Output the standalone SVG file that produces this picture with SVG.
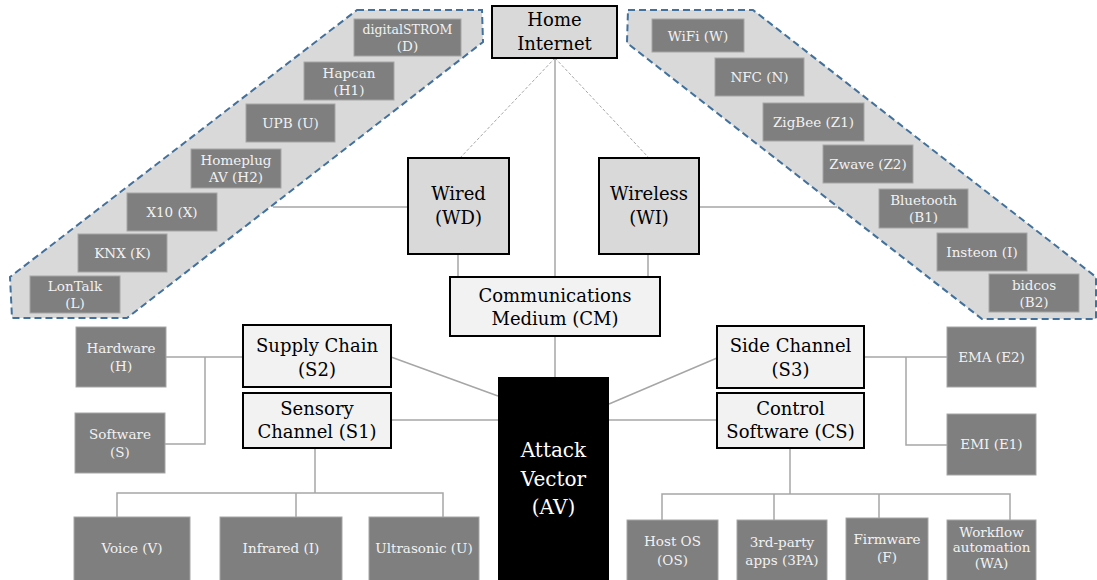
<svg xmlns="http://www.w3.org/2000/svg" width="1097" height="580" viewBox="0 0 1097 580">
<style>
.poly{fill:#d9d9d9;stroke:#41719c;stroke-width:2;stroke-dasharray:7 4}
.g{fill:#7f7f7f;stroke:#a6a6a6;stroke-width:1}
.gt{font-family:"DejaVu Serif","Liberation Serif",serif;font-size:13.5px;fill:#f2f2f2;text-anchor:middle}
.l1{fill:#d9d9d9;stroke:#000;stroke-width:2}
.l2{fill:#f2f2f2;stroke:#000;stroke-width:2}
.lt{font-family:"DejaVu Serif","Liberation Serif",serif;font-size:18px;fill:#000;text-anchor:middle}
.avt{font-family:"DejaVu Serif","Liberation Serif",serif;font-size:20px;fill:#fff;text-anchor:middle}
.c{stroke:#a6a6a6;stroke-width:1.5;fill:none}
.d{stroke:#a6a6a6;stroke-width:1;stroke-dasharray:3 2;fill:none}
</style>
<rect width="1097" height="580" fill="#fff"/>
<g id="wired-group"><polygon class="poly" points="357,10 482,10 483,42 127,318 12,318 10,277"/></g>
<g id="wireless-group"><polygon class="poly" points="628,10 753,10 1096,277 1096,319 982,319 627,43"/></g>
<g id="connectors">
<path class="c" d="M555,58V277"/>
<path class="d" d="M555,58L460,158"/>
<path class="d" d="M555,58L649,158"/>
<path class="c" d="M408,207H273"/>
<path class="c" d="M699,207H837"/>
<path class="c" d="M458,254V277"/>
<path class="c" d="M648,254V277"/>
<path class="c" d="M555,336V377"/>
<path class="c" d="M391,357L498,396"/>
<path class="c" d="M391,420H498"/>
<path class="c" d="M609,404L717,358"/>
<path class="c" d="M609,420H717"/>
<path class="c" d="M243,357H166M205,357V444H165"/>
<path class="c" d="M315,448V493M117,517V493H443V517M296,493V517"/>
<path class="c" d="M864,357H947M906,357V445H947"/>
<path class="c" d="M790,448V494M662,520V494H1010V520M774,494V520M879,494V518"/>
</g>
<g id="D"><rect class="g" x="354" y="19" width="107" height="37"/><text class="gt" x="407.5" y="34" style="font-size:12.5px">digitalSTROM</text><text class="gt" x="407.5" y="51">(D)</text></g>
<g id="H1"><rect class="g" x="304" y="62" width="90" height="38"/><text class="gt" x="349" y="77.5">Hapcan</text><text class="gt" x="349" y="94.5">(H1)</text></g>
<g id="U"><rect class="g" x="246" y="104" width="89" height="38"/><text class="gt" x="290.5" y="128">UPB (U)</text></g>
<g id="H2"><rect class="g" x="191" y="149" width="90" height="39"/><text class="gt" x="236" y="165">Homeplug</text><text class="gt" x="236" y="182">AV (H2)</text></g>
<g id="X"><rect class="g" x="127" y="193" width="90" height="38"/><text class="gt" x="172" y="217">X10 (X)</text></g>
<g id="K"><rect class="g" x="78" y="234" width="89" height="38"/><text class="gt" x="122.5" y="258">KNX (K)</text></g>
<g id="L"><rect class="g" x="30" y="276" width="90" height="37"/><text class="gt" x="75" y="291">LonTalk</text><text class="gt" x="75" y="308">(L)</text></g>
<g id="W"><rect class="g" x="652" y="19" width="92" height="33"/><text class="gt" x="698" y="40.5">WiFi (W)</text></g>
<g id="N"><rect class="g" x="715" y="58" width="89" height="38"/><text class="gt" x="759.5" y="82">NFC (N)</text></g>
<g id="Z1"><rect class="g" x="763" y="103" width="101" height="38"/><text class="gt" x="813.5" y="127">ZigBee (Z1)</text></g>
<g id="Z2"><rect class="g" x="823" y="145" width="90" height="38"/><text class="gt" x="868" y="169">Zwave (Z2)</text></g>
<g id="B1"><rect class="g" x="879" y="189" width="89" height="39"/><text class="gt" x="923.5" y="205">Bluetooth</text><text class="gt" x="923.5" y="222">(B1)</text></g>
<g id="I"><rect class="g" x="937" y="233" width="90" height="38"/><text class="gt" x="982" y="257">Insteon (I)</text></g>
<g id="B2"><rect class="g" x="989" y="274" width="90" height="38"/><text class="gt" x="1034" y="289.5">bidcos</text><text class="gt" x="1034" y="306.5">(B2)</text></g>
<g id="HI"><rect class="l1" x="492" y="6" width="125" height="52"/><text class="lt" x="554.5" y="26">Home</text><text class="lt" x="554.5" y="50">Internet</text></g>
<g id="WD"><rect class="l1" x="408" y="158" width="101" height="96"/><text class="lt" x="458.5" y="200">Wired</text><text class="lt" x="458.5" y="224">(WD)</text></g>
<g id="WI"><rect class="l1" x="599" y="158" width="100" height="96"/><text class="lt" x="649" y="200">Wireless</text><text class="lt" x="649" y="224">(WI)</text></g>
<g id="CM"><rect class="l2" x="450" y="277" width="210" height="59"/><text class="lt" x="555" y="302">Communications</text><text class="lt" x="555" y="325">Medium (CM)</text></g>
<g id="S2"><rect class="l2" x="243" y="325" width="148" height="62"/><text class="lt" x="317" y="352">Supply Chain</text><text class="lt" x="317" y="376">(S2)</text></g>
<g id="S1"><rect class="l2" x="243" y="393" width="148" height="55"/><text class="lt" x="317" y="415">Sensory</text><text class="lt" x="317" y="438">Channel (S1)</text></g>
<g id="S3"><rect class="l2" x="717" y="326" width="147" height="62"/><text class="lt" x="790.5" y="352">Side Channel</text><text class="lt" x="790.5" y="376">(S3)</text></g>
<g id="CS"><rect class="l2" x="717" y="393" width="147" height="55"/><text class="lt" x="790.5" y="415">Control</text><text class="lt" x="790.5" y="438">Software (CS)</text></g>
<g id="AV"><rect x="498" y="377" width="111" height="210" fill="#000"/><text class="avt" x="553.5" y="457">Attack</text><text class="avt" x="553.5" y="486">Vector</text><text class="avt" x="553.5" y="514">(AV)</text></g>
<g id="H"><rect class="g" x="76" y="327" width="90" height="60"/><text class="gt" x="121" y="353">Hardware</text><text class="gt" x="121" y="371">(H)</text></g>
<g id="S"><rect class="g" x="75" y="413" width="90" height="60"/><text class="gt" x="120" y="439">Software</text><text class="gt" x="120" y="457">(S)</text></g>
<g id="E2"><rect class="g" x="947" y="327" width="89" height="60"/><text class="gt" x="991.5" y="362">EMA (E2)</text></g>
<g id="E1"><rect class="g" x="947" y="414" width="89" height="61"/><text class="gt" x="991.5" y="449">EMI (E1)</text></g>
<g id="V"><rect class="g" x="74" y="517" width="116" height="80"/><text class="gt" x="132" y="553">Voice (V)</text></g>
<g id="IR"><rect class="g" x="220" y="517" width="122" height="80"/><text class="gt" x="281" y="553">Infrared (I)</text></g>
<g id="US"><rect class="g" x="369" y="517" width="110" height="80"/><text class="gt" x="424" y="553">Ultrasonic (U)</text></g>
<g id="OS"><rect class="g" x="627" y="520" width="91" height="70"/><text class="gt" x="672.5" y="546">Host OS</text><text class="gt" x="672.5" y="565">(OS)</text></g>
<g id="3PA"><rect class="g" x="737" y="520" width="90" height="70"/><text class="gt" x="782" y="547">3rd-party</text><text class="gt" x="782" y="565">apps (3PA)</text></g>
<g id="F"><rect class="g" x="846" y="518" width="82" height="72"/><text class="gt" x="887" y="544">Firmware</text><text class="gt" x="887" y="562">(F)</text></g>
<g id="WA"><rect class="g" x="947" y="520" width="89" height="70"/><text class="gt" x="991.5" y="537">Workflow</text><text class="gt" x="991.5" y="552">automation</text><text class="gt" x="991.5" y="568">(WA)</text></g>
</svg>
